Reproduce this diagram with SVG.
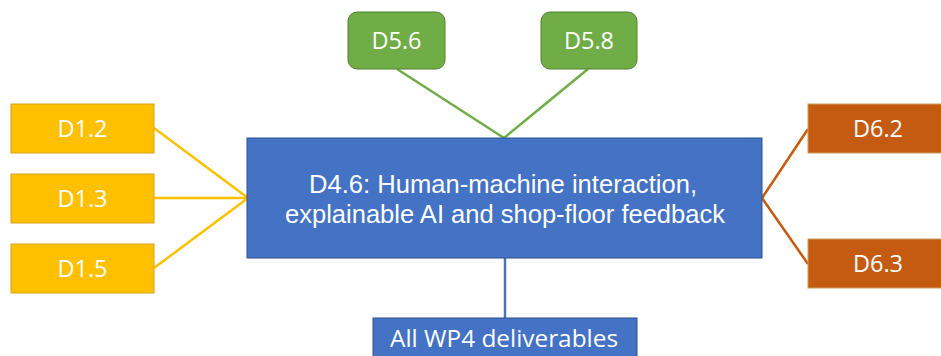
<svg xmlns="http://www.w3.org/2000/svg" width="941" height="356" viewBox="0 0 941 356">
  <style>
    .lbl { font-family: "Open Sans", "Liberation Sans", sans-serif; fill: #ffffff; text-anchor: middle; font-size: 23.5px; }
    .big { font-family: "Liberation Sans", Arial, sans-serif; font-size: 26px; }
    .wp1 { fill: #FFC000; stroke: #D6A21A; stroke-width: 1; }
    .wp5 { fill: #70AD47; stroke: #507E32; stroke-width: 1; }
    .wp6 { fill: #C55A11; stroke: #C9A05A; stroke-width: 1; }
    .wp4 { fill: #4472C4; stroke: #2F528F; stroke-width: 1; }
    .c1 { stroke: #FFC000; stroke-width: 2.5; fill: none; }
    .c5 { stroke: #70AD47; stroke-width: 2.5; fill: none; }
    .c6 { stroke: #C55A11; stroke-width: 2.5; fill: none; }
    .c4 { stroke: #4472C4; stroke-width: 2.5; fill: none; }
  </style>

  <g id="connectors">
    <line class="c1" x1="154" y1="128" x2="248" y2="198"/>
    <line class="c1" x1="154" y1="198" x2="248" y2="198"/>
    <line class="c1" x1="154" y1="268" x2="248" y2="198"/>
    <line class="c5" x1="397" y1="69" x2="504" y2="138"/>
    <line class="c5" x1="588" y1="69" x2="504" y2="138"/>
    <line class="c6" x1="762" y1="198" x2="808" y2="129"/>
    <line class="c6" x1="762" y1="198" x2="808" y2="264"/>
    <line class="c4" x1="505" y1="258" x2="505" y2="318"/>
  </g>

  <g id="d4_6">
    <rect class="wp4" x="247" y="138" width="515" height="120"/>
    <text class="lbl big" x="503" y="193" textLength="388" lengthAdjust="spacingAndGlyphs">D4.6: Human-machine interaction,</text>
    <text class="lbl big" x="505" y="223" textLength="440" lengthAdjust="spacingAndGlyphs">explainable AI and shop-floor feedback</text>
  </g>

  <g id="d1_2">
    <rect class="wp1" x="11" y="104" width="143" height="49"/>
    <text class="lbl" x="82.5" y="137">D1.2</text>
  </g>
  <g id="d1_3">
    <rect class="wp1" x="11" y="174" width="143" height="49"/>
    <text class="lbl" x="82.5" y="207">D1.3</text>
  </g>
  <g id="d1_5">
    <rect class="wp1" x="11" y="244" width="143" height="49"/>
    <text class="lbl" x="82.5" y="277">D1.5</text>
  </g>

  <g id="d5_6">
    <rect class="wp5" x="348" y="12" width="97" height="57" rx="9" ry="9"/>
    <text class="lbl" x="396.5" y="49">D5.6</text>
  </g>
  <g id="d5_8">
    <rect class="wp5" x="541" y="12" width="96" height="57" rx="9" ry="9"/>
    <text class="lbl" x="589" y="49">D5.8</text>
  </g>

  <g id="d6_2">
    <rect class="wp6" x="808" y="104" width="140" height="49"/>
    <text class="lbl" x="878" y="137">D6.2</text>
  </g>
  <g id="d6_3">
    <rect class="wp6" x="808" y="239" width="140" height="49"/>
    <text class="lbl" x="878" y="272">D6.3</text>
  </g>

  <g id="wp4_all">
    <rect class="wp4" x="373" y="318" width="264" height="45"/>
    <text class="lbl" x="504" y="347" textLength="228" lengthAdjust="spacingAndGlyphs">All WP4 deliverables</text>
  </g>
</svg>
